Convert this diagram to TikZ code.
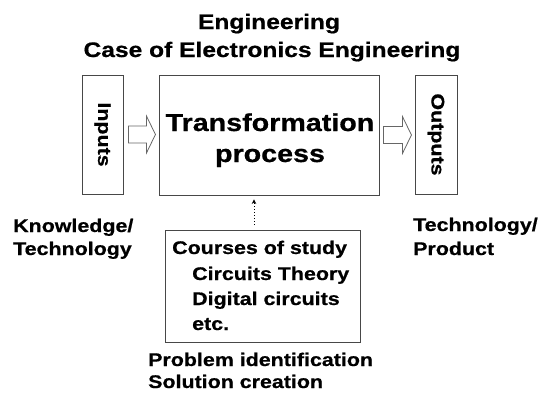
\documentclass[tikz,border=0pt]{standalone}
\usepackage{fontspec}
\newfontfamily\bsf[FakeStretch=1.17,FakeBold=0.7]{Liberation Sans}
\usetikzlibrary{arrows.meta,calc}
\begin{document}
\begin{tikzpicture}[x=1pt,y=-1pt,
  frame/.style={draw=black!72, line width=0.9pt, inner sep=0pt},
  smalltxt/.style={font=\bsf\bfseries\fontsize{18.3}{22}\selectfont, inner sep=0pt, anchor=base west},
  titletxt/.style={font=\bsf\bfseries\fontsize{21}{25}\selectfont, inner sep=0pt, anchor=base},
  bigtxt/.style={font=\bsf\bfseries\fontsize{24.5}{30}\selectfont, inner sep=0pt, anchor=base},
  blockarrow/.style={draw=black!60, line width=0.8pt, fill=white, line join=miter},
  dotarrow/.style={dotted, line width=1pt, -{Stealth[length=4.5pt,width=4.5pt]}}]
\useasboundingbox (0,0) rectangle (541,400);
\fill[white] (0,0) rectangle (541,400);

% titles
\node[titletxt] (t1) at (269,29) {Engineering};
\node[titletxt] (t2) at (272,57) {Case of Electronics Engineering};

% boxes
\node[frame, minimum width=41pt, minimum height=119pt,
      font=\bsf\bfseries\fontsize{18.3}{22}\selectfont] (inputs) at (102.5,134.5) {\rotatebox{-90}{Inputs}};
\node[frame, minimum width=220pt, minimum height=120pt] (main) at (269,135) {};
\node[frame, minimum width=42pt, minimum height=119pt,
      font=\bsf\bfseries\fontsize{18.3}{22}\selectfont] (outputs) at (436,134.5) {\rotatebox{-90}{Outputs}};
\node[frame, minimum width=195pt, minimum height=112pt] (courses) at (262.5,286) {};

% main text
\node[bigtxt] (m1) at (270,131) {Transformation};
\node[bigtxt] (m2) at (270,162) {process};

% block arrows
\coordinate (a1) at ([xshift=5pt]inputs.east);
\draw[blockarrow] ($(a1)+(0,-8.5)$) -- ($(a1)+(18,-8.5)$) -- ($(a1)+(18,-18.5)$)
  -- ($(a1)+(27,0)$) -- ($(a1)+(18,18.5)$) -- ($(a1)+(18,8.5)$) -- ($(a1)+(0,8.5)$) -- cycle;
\coordinate (a2) at ([xshift=4pt]main.east);
\draw[blockarrow] ($(a2)+(0,-8.5)$) -- ($(a2)+(19,-8.5)$) -- ($(a2)+(19,-18.5)$)
  -- ($(a2)+(28,0)$) -- ($(a2)+(19,18.5)$) -- ($(a2)+(19,8.5)$) -- ($(a2)+(0,8.5)$) -- cycle;

% dotted arrow
\draw[dotarrow] ([xshift=-8.5pt,yshift=5pt]courses.north) -- ([xshift=-15pt,yshift=-4pt]main.south);

% courses text
\node[smalltxt] (c1) at (172,254) {Courses of study};
\node[smalltxt] (c2) at (192,280) {Circuits Theory};
\node[smalltxt] (c3) at (192,305) {Digital circuits};
\node[smalltxt] (c4) at (192,330) {etc.};

% side labels
\node[smalltxt] (k1) at (13,232) {Knowledge/};
\node[smalltxt] (k2) at (13,255) {Technology};
\node[smalltxt] (p1) at (413,231) {Technology/};
\node[smalltxt] (p2) at (413,255) {Product};

% bottom labels
\node[smalltxt] (b1) at (148,366) {Problem identification};
\node[smalltxt] (b2) at (148,388) {Solution creation};
\end{tikzpicture}
\end{document}
